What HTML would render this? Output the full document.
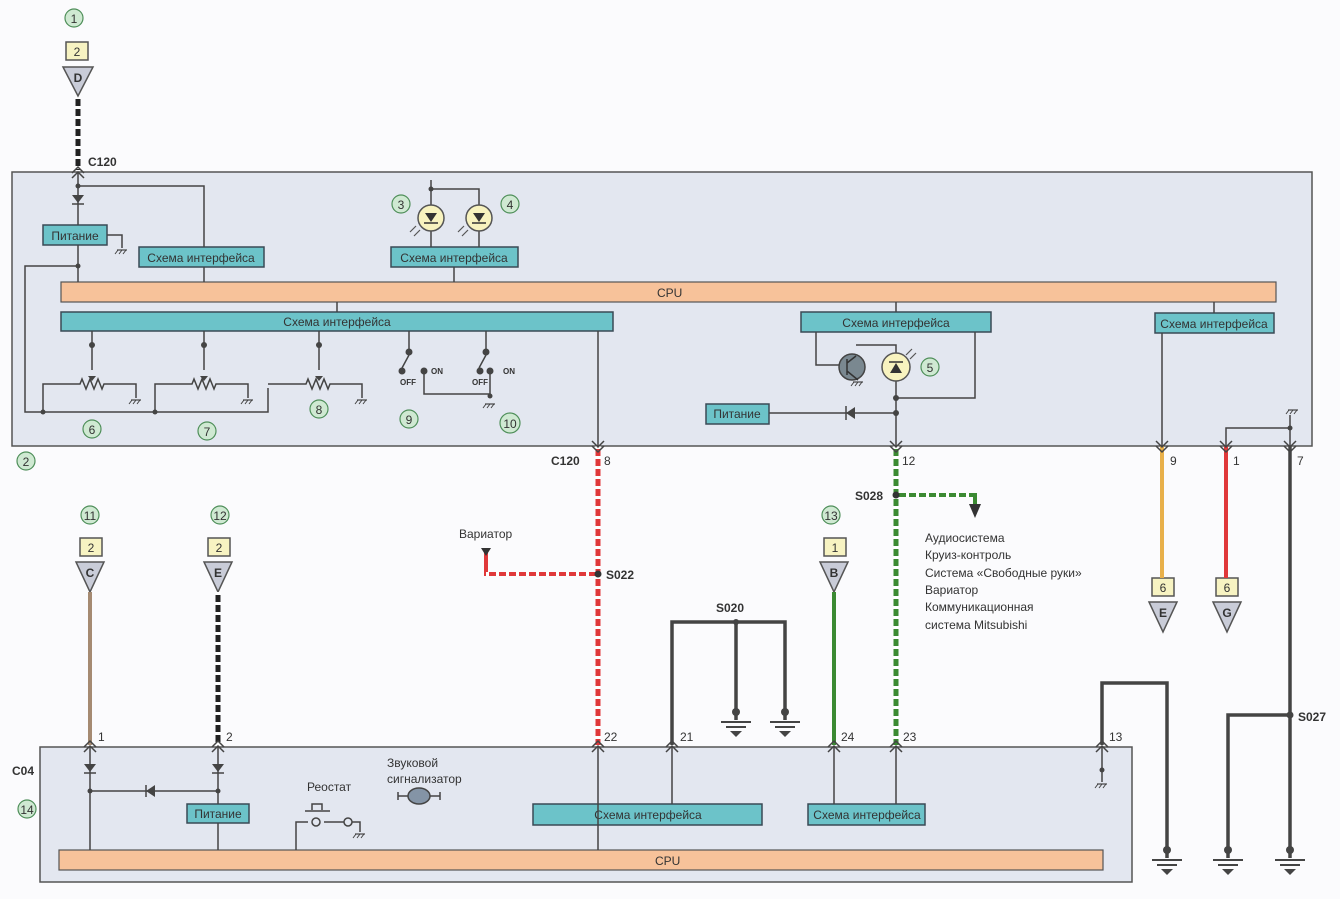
<!DOCTYPE html>
<html><head><meta charset="utf-8"><style>
html,body{margin:0;padding:0;background:#fbfbfd}
svg{display:block}
text{font-family:"Liberation Sans Narrow","Liberation Sans",sans-serif;fill:#333}
</style></head><body>
<svg width="1340" height="899" viewBox="0 0 1340 899" xmlns="http://www.w3.org/2000/svg">
<defs>
<g id="gnd"><line x1="-15" y1="0" x2="15" y2="0" stroke="#444" stroke-width="2"/><line x1="-10" y1="5" x2="10" y2="5" stroke="#444" stroke-width="2"/><path d="M-6 9 L6 9 L0 15 Z" fill="#444"/></g>
<g id="hg"><line x1="-5" y1="0" x2="5" y2="0" stroke="#444" stroke-width="1.2"/><path d="M-4 0 l-3 4 M0 0 l-3 4 M4 0 l-3 4" stroke="#444" stroke-width="1"/></g>
<g id="chev"><path d="M-6 6 L0 0 L6 6 M-6 11 L0 5 L6 11" fill="none" stroke="#444" stroke-width="1.5"/></g>
<g id="chevd"><path d="M-6 -6 L0 0 L6 -6 M-6 -11 L0 -5 L6 -11" fill="none" stroke="#444" stroke-width="1.5"/></g>
</defs>

<rect x="12" y="172" width="1300" height="274" fill="#e3e7f0" stroke="#555" stroke-width="1.5"/>
<rect x="61" y="282" width="1215" height="20" fill="#f7c29a" stroke="#555" stroke-width="1.2"/>
<text x="657" y="297" font-size="12">CPU</text>
<g fill="#6cc3c9" stroke="#3a4a55" stroke-width="1.5">
<rect x="61" y="312" width="552" height="19"/>
<rect x="43" y="225" width="64" height="20"/>
<rect x="139" y="247" width="125" height="20"/>
<rect x="391" y="247" width="127" height="20"/>
<rect x="801" y="312" width="190" height="20"/>
<rect x="1155" y="313" width="119" height="20"/>
<rect x="706" y="404" width="63" height="20"/>
</g>
<g font-size="12" text-anchor="middle">
<text x="337" y="326">Схема интерфейса</text>
<text x="75" y="240">Питание</text>
<text x="201" y="262">Схема интерфейса</text>
<text x="454" y="262">Схема интерфейса</text>
<text x="896" y="327">Схема интерфейса</text>
<text x="1214" y="328">Схема интерфейса</text>
<text x="737" y="418">Питание</text>
</g>
<g stroke="#444" stroke-width="1.5" fill="none">
<path d="M78 172 V225 M78 186 H204 V247 M78 245 V282 M107 235 H122 V248 M78 266 H25 V412 H155 V412 H268 V388"/>
<path d="M204 267 V282 M337 302 V312 M454 267 V282"/>
<path d="M92 331 V370 M204 331 V370 M319 331 V370"/>
<path d="M43 412 V384 H80 l2 -5 l4 10 l4 -10 l4 10 l4 -10 l4 10 l2 -5 H136 V398"/>
<path d="M155 412 V384 H192 l2 -5 l4 10 l4 -10 l4 10 l4 -10 l4 10 l2 -5 H248 V398"/>
<path d="M268 384 H306 l2 -5 l4 10 l4 -10 l4 10 l4 -10 l4 10 l2 -5 H362 V398"/>
<path d="M409 331 V352 M409 355 L402 368 M424 370 V394 H490 M486 331 V352 M486 355 L479 368 M490 370 V398"/>
<path d="M431 180 V232 M431 189 H479 V232 M431 247 V232 M479 247 V232"/>
<path d="M598 331 V446 M896 302 V312 M1214 302 V313 M1162 333 V446"/>
<path d="M816 332 V365 H840 M856 345 V345 H896 V446 M896 398 H975 V332 M769 413 H896"/>
<path d="M1290 415 V446 M1290 428 H1226 V446"/>
</g>
<g fill="#444">
<circle cx="78" cy="186" r="2.5"/><circle cx="78" cy="266" r="2.5"/><circle cx="43" cy="412" r="2.5"/><circle cx="155" cy="412" r="2.5"/>
<circle cx="92" cy="345" r="3"/><circle cx="204" cy="345" r="3"/><circle cx="319" cy="345" r="3"/>
<path d="M88 376 L96 376 L92 381Z M200 376 L208 376 L204 381Z M315 376 L323 376 L319 381Z"/>
<circle cx="409" cy="352" r="3.5"/><circle cx="402" cy="371" r="3.5"/><circle cx="424" cy="371" r="3.5"/>
<circle cx="486" cy="352" r="3.5"/><circle cx="480" cy="371" r="3.5"/><circle cx="490" cy="371" r="3.5"/>
<circle cx="490" cy="396" r="2.5"/><circle cx="431" cy="189" r="2.5"/>
<circle cx="896" cy="398" r="3"/><circle cx="896" cy="413" r="3"/><circle cx="1290" cy="428" r="2.5"/>
<path d="M72 195 L84 195 L78 203Z"/>
<path d="M846 413 L855 407 L855 419Z"/>
</g>
<line x1="72" y1="204" x2="84" y2="204" stroke="#444" stroke-width="1.5"/>
<line x1="846" y1="406" x2="846" y2="420" stroke="#444" stroke-width="1.5"/>
<use href="#hg" x="122" y="250"/><use href="#hg" x="136" y="400"/><use href="#hg" x="248" y="400"/><use href="#hg" x="362" y="400"/><use href="#hg" x="490" y="404"/><use href="#hg" x="858" y="382"/><use href="#hg" x="1293" y="410"/>
<g font-size="8" font-weight="bold"><text x="400" y="385">OFF</text><text x="431" y="374">ON</text><text x="472" y="385">OFF</text><text x="503" y="374">ON</text></g>
<g stroke="#555" stroke-width="1.5" fill="#f8f3bf">
<circle cx="431" cy="218" r="13"/><circle cx="479" cy="218" r="13"/><circle cx="896" cy="367" r="14"/>
</g>
<circle cx="852" cy="367" r="13" fill="#7a8890" stroke="#444" stroke-width="1.5"/>
<path d="M847 359 V375 M847 363 L856 356 M847 371 L858 380" stroke="#333" stroke-width="1.5" fill="none"/>
<g fill="#333"><path d="M425 213 H437 L431 222Z M473 213 H485 L479 222Z M890 373 H902 L896 363Z"/></g>
<path d="M424 223 H438 M472 223 H486 M889 362 H903" stroke="#333" stroke-width="1.5"/>
<path d="M420 230 l-6 6 M416 226 l-6 6 M468 230 l-6 6 M464 226 l-6 6 M906 355 l6 -6 M910 359 l6 -6" stroke="#555" stroke-width="1.2"/>
<g fill="#cfe9d2" stroke="#4f8f5a" stroke-width="1.2">
<circle cx="74" cy="18" r="9"/><circle cx="401" cy="204" r="9"/><circle cx="510" cy="204" r="9"/><circle cx="930" cy="367" r="9"/>
<circle cx="92" cy="429" r="9"/><circle cx="207" cy="431" r="9"/><circle cx="319" cy="409" r="9"/><circle cx="409" cy="419" r="9"/><circle cx="510" cy="423" r="10"/>
<circle cx="26" cy="461" r="9"/><circle cx="90" cy="515" r="9"/><circle cx="220" cy="515" r="9"/><circle cx="831" cy="515" r="9"/><circle cx="27" cy="809" r="9"/>
</g>
<g font-size="12" text-anchor="middle">
<text x="74" y="23">1</text><text x="401" y="209">3</text><text x="510" y="209">4</text><text x="930" y="372">5</text>
<text x="92" y="434">6</text><text x="207" y="436">7</text><text x="319" y="414">8</text><text x="409" y="424">9</text><text x="510" y="428">10</text>
<text x="26" y="466">2</text><text x="90" y="520">11</text><text x="220" y="520">12</text><text x="831" y="520">13</text><text x="27" y="814">14</text>
</g>

<line x1="78" y1="96" x2="78" y2="170" stroke="#222" stroke-width="5"/>
<line x1="78" y1="96" x2="78" y2="170" stroke="#fff" stroke-width="5" stroke-dasharray="3 7"/>
<use href="#chev" x="78" y="167"/>
<text x="88" y="166" font-size="12" font-weight="bold">C120</text>

<g stroke="#555" stroke-width="1.5">
<g fill="#f7f3c2"><rect x="66" y="42" width="22" height="18"/><rect x="80" y="538" width="22" height="18"/><rect x="208" y="538" width="22" height="18"/><rect x="824" y="538" width="22" height="18"/><rect x="1152" y="578" width="22" height="18"/><rect x="1216" y="578" width="22" height="18"/></g>
<g fill="#c9ccd8"><path d="M63 67 H93 L78 96Z"/><path d="M76 562 H104 L90 592Z"/><path d="M204 562 H232 L218 592Z"/><path d="M820 562 H848 L834 592Z"/><path d="M1149 602 H1177 L1163 632Z"/><path d="M1213 602 H1241 L1227 632Z"/></g>
</g>
<g font-size="12" text-anchor="middle" font-weight="bold">
<text x="77" y="56" font-weight="normal">2</text><text x="91" y="552" font-weight="normal">2</text><text x="219" y="552" font-weight="normal">2</text><text x="835" y="552" font-weight="normal">1</text><text x="1163" y="592" font-weight="normal">6</text><text x="1227" y="592" font-weight="normal">6</text>
<text x="78" y="82">D</text><text x="90" y="577">C</text><text x="218" y="577">E</text><text x="834" y="577">B</text><text x="1163" y="617">E</text><text x="1227" y="617">G</text>
</g>

<line x1="598" y1="446" x2="598" y2="745" stroke="#e0383a" stroke-width="5"/>
<line x1="598" y1="446" x2="598" y2="745" stroke="#fff" stroke-width="5" stroke-dasharray="3 7"/>
<path d="M486 550 V574 H598" fill="none" stroke="#e0383a" stroke-width="4"/>
<path d="M486 574 H598" stroke="#fff" stroke-width="4" stroke-dasharray="3 7"/>
<path d="M481 548 H491 L486 556Z" fill="#333"/>
<circle cx="598" cy="574" r="3.5" fill="#333"/>
<text x="459" y="538" font-size="12">Вариатор</text>
<text x="606" y="579" font-size="12" font-weight="bold">S022</text>

<line x1="896" y1="446" x2="896" y2="745" stroke="#3b8a32" stroke-width="5"/>
<line x1="896" y1="446" x2="896" y2="745" stroke="#fff" stroke-width="5" stroke-dasharray="3 7"/>
<path d="M896 495 H975 V505" fill="none" stroke="#3b8a32" stroke-width="4"/>
<path d="M896 495 H975" stroke="#fff" stroke-width="4" stroke-dasharray="3 7"/>
<path d="M969 504 H981 L975 518Z" fill="#333"/>
<circle cx="896" cy="495" r="3.5" fill="#333"/>
<text x="855" y="500" font-size="12" font-weight="bold">S028</text>
<g font-size="12"><text x="925" y="542">Аудиосистема</text><text x="925" y="559">Круиз-контроль</text><text x="925" y="577">Система «Свободные руки»</text><text x="925" y="594">Вариатор</text><text x="925" y="611">Коммуникационная</text><text x="925" y="629">система Mitsubishi</text></g>

<line x1="90" y1="592" x2="90" y2="745" stroke="#a58a72" stroke-width="4"/>
<line x1="218" y1="592" x2="218" y2="745" stroke="#222" stroke-width="5"/>
<line x1="218" y1="592" x2="218" y2="745" stroke="#fff" stroke-width="5" stroke-dasharray="3 7"/>
<line x1="834" y1="592" x2="834" y2="745" stroke="#3b8a32" stroke-width="4"/>
<line x1="1162" y1="446" x2="1162" y2="578" stroke="#e8b04a" stroke-width="4"/>
<line x1="1226" y1="446" x2="1226" y2="578" stroke="#e0383a" stroke-width="4"/>
<g fill="none" stroke="#444" stroke-width="3.5">
<path d="M672 745 V622 H785 V720 M736 622 V720"/>
<path d="M1102 745 V683 H1167 V858"/>
<path d="M1290 446 V858 M1290 715 H1228 V858"/>
</g>
<g fill="#444"><circle cx="736" cy="622" r="3"/><circle cx="736" cy="712" r="4"/><circle cx="785" cy="712" r="4"/><circle cx="1290" cy="715" r="3.5"/><circle cx="1167" cy="850" r="4"/><circle cx="1228" cy="850" r="4"/><circle cx="1290" cy="850" r="4"/></g>
<use href="#gnd" x="736" y="722"/><use href="#gnd" x="785" y="722"/><use href="#gnd" x="1167" y="860"/><use href="#gnd" x="1228" y="860"/><use href="#gnd" x="1290" y="860"/>
<text x="716" y="612" font-size="12" font-weight="bold">S020</text>
<text x="1298" y="721" font-size="12" font-weight="bold">S027</text>
<g font-size="12"><text x="551" y="465" font-weight="bold">C120</text><text x="604" y="465">8</text><text x="902" y="465">12</text><text x="1170" y="465">9</text><text x="1233" y="465">1</text><text x="1297" y="465">7</text></g>
<use href="#chevd" x="598" y="452"/><use href="#chevd" x="896" y="452"/><use href="#chevd" x="1162" y="452"/><use href="#chevd" x="1226" y="452"/><use href="#chevd" x="1290" y="452"/>

<rect x="40" y="747" width="1092" height="135" fill="#e3e7f0" stroke="#555" stroke-width="1.5"/>
<rect x="59" y="850" width="1044" height="20" fill="#f7c29a" stroke="#555" stroke-width="1.2"/>
<text x="655" y="865" font-size="12">CPU</text>
<g fill="#6cc3c9" stroke="#3a4a55" stroke-width="1.5"><rect x="187" y="804" width="62" height="19"/><rect x="533" y="804" width="229" height="21"/><rect x="808" y="804" width="117" height="21"/></g>
<g font-size="12" text-anchor="middle"><text x="218" y="818">Питание</text><text x="648" y="819">Схема интерфейса</text><text x="867" y="819">Схема интерфейса</text></g>
<g stroke="#444" stroke-width="1.5" fill="none">
<path d="M90 747 V850 M218 747 V804 M218 823 V850 M90 791 H218 M598 747 V850 M672 747 V804 M834 747 V804 M896 747 V804"/>
<path d="M296 850 V822 H308 M324 822 H344 M352 822 H360 V832 M312 810 V804 H322 V810 M305 811 H330"/>
<path d="M1102 747 V782"/>
<path d="M398 792 V800 M398 796 H408 M430 796 H440 M440 792 V800"/>
</g>
<circle cx="316" cy="822" r="4" fill="#e3e7f0" stroke="#444" stroke-width="1.5"/><circle cx="348" cy="822" r="4" fill="#e3e7f0" stroke="#444" stroke-width="1.5"/>
<ellipse cx="419" cy="796" rx="11" ry="8" fill="#8494a6" stroke="#444" stroke-width="1.5"/>
<use href="#hg" x="360" y="834"/><use href="#hg" x="1102" y="784"/>
<g fill="#444"><circle cx="90" cy="791" r="2.5"/><circle cx="218" cy="791" r="2.5"/><circle cx="1102" cy="770" r="2.5"/>
<path d="M84 764 H96 L90 772Z M212 764 H224 L218 772Z M146 791 L155 785 L155 797Z"/></g>
<path d="M84 773 H96 M212 773 H224 M146 785 V797" stroke="#444" stroke-width="1.5"/>
<use href="#chev" x="90" y="741"/><use href="#chev" x="218" y="741"/><use href="#chev" x="598" y="741"/><use href="#chev" x="672" y="741"/><use href="#chev" x="834" y="741"/><use href="#chev" x="896" y="741"/><use href="#chev" x="1102" y="741"/>
<g font-size="12"><text x="98" y="741">1</text><text x="226" y="741">2</text><text x="604" y="741">22</text><text x="680" y="741">21</text><text x="841" y="741">24</text><text x="903" y="741">23</text><text x="1109" y="741">13</text>
<text x="12" y="775" font-weight="bold">C04</text>
<text x="307" y="791">Реостат</text><text x="387" y="767">Звуковой</text><text x="387" y="783">сигнализатор</text></g>
</svg>
</body></html>
